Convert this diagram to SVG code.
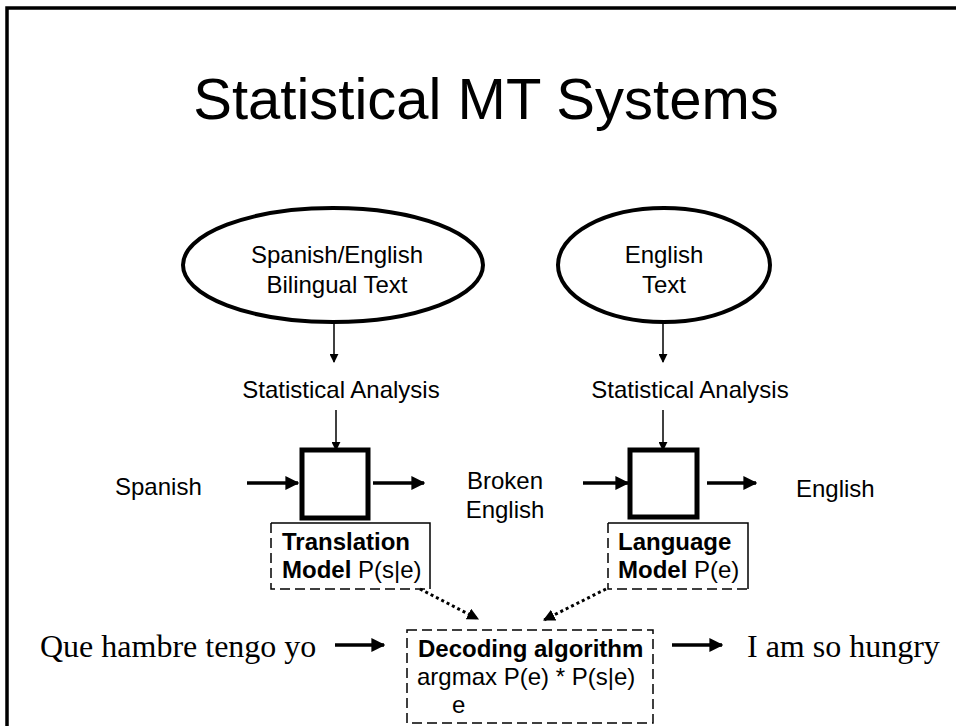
<svg xmlns="http://www.w3.org/2000/svg" width="956" height="726" viewBox="0 0 956 726">
<defs>
<marker id="ah" viewBox="0 0 10 10" refX="9" refY="5" markerWidth="4" markerHeight="4" orient="auto" markerUnits="strokeWidth"><path d="M0,0 L10,5 L0,10 z" fill="#000"/></marker>
<marker id="ahs" viewBox="0 0 10 10" refX="9" refY="5" markerWidth="6" markerHeight="6" orient="auto" markerUnits="strokeWidth"><path d="M0,0 L10,5 L0,10 z" fill="#000"/></marker>
<marker id="ahd" viewBox="0 0 10 10" refX="9" refY="5" markerWidth="4" markerHeight="4" orient="auto" markerUnits="strokeWidth"><path d="M0,0 L10,5 L0,10 z" fill="#000"/></marker>
</defs>
<style>
.s{font-family:"Liberation Sans",Arial,sans-serif;font-size:24px;fill:#000}
.b{font-weight:bold}
.t{font-family:"Liberation Serif","Times New Roman",serif;font-size:32px;fill:#000}
.thick{stroke:#000;stroke-width:3.5;fill:none;marker-end:url(#ah)}
.thin{stroke:#000;stroke-width:1.5;fill:none;marker-end:url(#ahs)}
.dot{stroke:#000;stroke-width:3;stroke-dasharray:3 3;fill:none;marker-end:url(#ahd)}
.ell{fill:#fff;stroke:#000;stroke-width:4}
.box{fill:#fff;stroke:#000;stroke-width:5}
.dash{fill:none;stroke:#000;stroke-width:1.5;stroke-dasharray:10 5}
.sol{fill:none;stroke:#000;stroke-width:1.5}
</style>
<rect width="956" height="726" fill="#fff"/>
<path d="M7,726 L7,8 L956,8" fill="none" stroke="#000" stroke-width="3.5"/>
<text x="486" y="119" text-anchor="middle" font-family="Liberation Sans, Arial, sans-serif" font-size="58">Statistical MT Systems</text>

<g id="bilingual">
<ellipse class="ell" cx="333" cy="265" rx="150" ry="57"/>
<text class="s" x="337" y="263" text-anchor="middle">Spanish/English</text>
<text class="s" x="337" y="293" text-anchor="middle">Bilingual Text</text>
</g>
<g id="english-text">
<ellipse class="ell" cx="664" cy="265" rx="106" ry="57"/>
<text class="s" x="664" y="263" text-anchor="middle">English</text>
<text class="s" x="664" y="293" text-anchor="middle">Text</text>
</g>
<g id="stat1"><text class="s" x="341" y="398" text-anchor="middle">Statistical Analysis</text></g>
<g id="stat2"><text class="s" x="690" y="398" text-anchor="middle">Statistical Analysis</text></g>

<g id="spanish"><text class="s" x="115" y="495">Spanish</text></g>
<g id="tm-box"><rect class="box" x="302" y="450" width="66" height="68"/></g>
<g id="broken"><text class="s" x="505" y="489" text-anchor="middle">Broken</text><text class="s" x="505" y="518" text-anchor="middle">English</text></g>
<g id="lm-box"><rect class="box" x="630" y="450" width="67" height="67"/></g>
<g id="english-out"><text class="s" x="796" y="497">English</text></g>

<g id="tm-label">
<path class="sol" d="M271,523 L430,523 L430,589"/>
<path class="dash" d="M271,523 L271,589 L430,589"/>
<text class="s b" x="282" y="550">Translation</text>
<text class="s" x="282" y="578"><tspan class="b">Model</tspan> P(s|e)</text>
</g>
<g id="lm-label">
<path class="sol" d="M608,523 L748,523 L748,589"/>
<path class="dash" d="M608,523 L608,589 L748,589"/>
<text class="s b" x="618" y="550">Language</text>
<text class="s" x="618" y="578"><tspan class="b">Model</tspan> P(e)</text>
</g>
<g id="decoder">
<rect class="dash" x="407" y="630" width="246" height="93"/>
<text class="s b" x="418" y="657">Decoding algorithm</text>
<text class="s" x="417" y="685">argmax P(e) * P(s|e)</text>
<text class="s" x="452" y="713">e</text>
</g>
<g id="que"><text class="t" x="40" y="657">Que hambre tengo yo</text></g>
<g id="hungry"><text class="t" x="747" y="657">I am so hungry</text></g>

<g id="connectors">
<line class="thin" x1="334" y1="322" x2="334" y2="362"/>
<line class="thin" x1="663" y1="322" x2="663" y2="362"/>
<line class="thin" x1="336" y1="410" x2="336" y2="450"/>
<line class="thin" x1="663" y1="410" x2="663" y2="450"/>
<line class="thick" x1="247" y1="483" x2="298" y2="483"/>
<line class="thick" x1="373" y1="483" x2="424" y2="483"/>
<line class="thick" x1="583" y1="483" x2="628" y2="483"/>
<line class="thick" x1="707" y1="483" x2="756" y2="483"/>
<line class="dot" x1="420" y1="589" x2="478" y2="619"/>
<line class="dot" x1="606" y1="589" x2="544" y2="620"/>
<line class="thick" x1="335" y1="645" x2="384" y2="645"/>
<line class="thick" x1="672" y1="645" x2="722" y2="645"/>
</g>
</svg>
